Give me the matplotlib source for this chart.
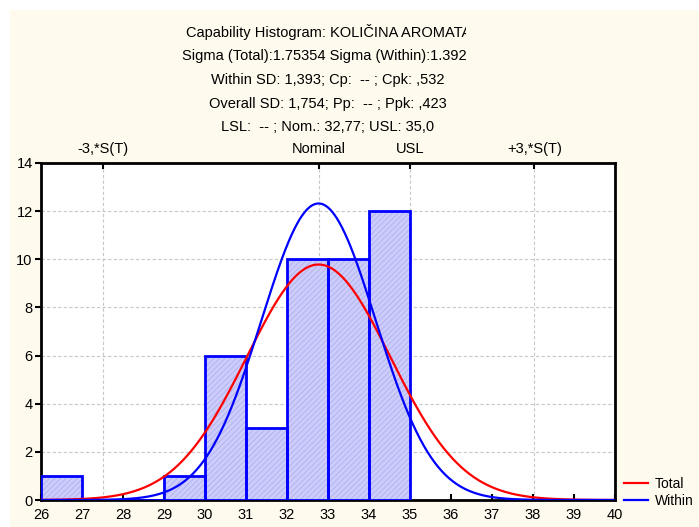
import numpy as np
import matplotlib
matplotlib.use("Agg")
import matplotlib.pyplot as plt
from matplotlib.patches import Rectangle
import matplotlib.transforms as mtransforms

# Data
bin_left = [26, 27, 28, 29, 30, 31, 32, 33, 34]
counts = [1, 0, 0, 1, 6, 3, 10, 10, 12]
bin_width = 1.0
mean = 32.77
sigma_total = 1.75354
sigma_within = 1.3926
usl = 35.0
title_lines = [
    "Capability Histogram: KOLIČINA AROMATA",
    "Sigma (Total):1.75354 Sigma (Within):1.3926",
    "Within SD: 1,393; Cp:  -- ; Cpk: ,532",
    "Overall SD: 1,754; Pp:  -- ; Ppk: ,423",
    "LSL:  -- ; Nom.: 32,77; USL: 35,0",
]
top_labels = ["-3,*S(T)", "Nominal", "USL", "+3,*S(T)"]
x_ticks = list(range(26, 41))
y_ticks = list(range(0, 15, 2))

plt.rcParams['font.family'] = ['Liberation Sans', 'DejaVu Sans']
plt.rcParams['hatch.linewidth'] = 0.6

W, H = 699, 527
fig = plt.figure(figsize=(W / 100, H / 100), dpi=100, facecolor='white')
cream = '#FFFAEE'
fig.patches.append(Rectangle((10 / W, 0), 1 - 10 / W, 1 - 10 / H,
                             transform=fig.transFigure, facecolor=cream,
                             edgecolor='none', zorder=-10))

ax = fig.add_axes([41 / W, 27 / H, (615 - 41) / W, (500 - 163) / H])
ax.set_facecolor('white')

N = sum(counts)
# hatched fill (hatch takes the edge colour), then blue outlines on top
ax.bar(bin_left, counts, width=bin_width, align='edge', facecolor='#CDCDFB',
       edgecolor='#AFAFF2', linewidth=0, hatch='//////', zorder=3)
ax.bar(bin_left, counts, width=bin_width, align='edge', fill=False,
       edgecolor='#0000FF', linewidth=2, zorder=3.5)

xs = np.linspace(26, 40, 800)
def npdf(x, m, s):
    return N * bin_width / (s * np.sqrt(2 * np.pi)) * np.exp(-0.5 * ((x - m) / s) ** 2)

l1, = ax.plot(xs, npdf(xs, mean, sigma_total), color='#FF0000', lw=1.6, zorder=4, label='Total')
l2, = ax.plot(xs, npdf(xs, mean, sigma_within), color='#0000FF', lw=1.6, zorder=4, label='Within')

ax.set_xlim(26, 40)
ax.set_ylim(0, 14)
ax.set_xticks(x_ticks)
ax.set_yticks(y_ticks)
ax.tick_params(axis='x', direction='in', length=4, width=1.5, labelsize=10.5, pad=6)
ax.tick_params(axis='y', direction='out', length=4, width=1.5, labelsize=10.5, pad=2)
for s in ax.spines.values():
    s.set_linewidth(2)
    s.set_color('black')
ax.yaxis.grid(True, linestyle=(0, (3, 2)), color='#C8C8C8', lw=0.8, zorder=0)

top_pos = [mean - 3 * sigma_total, mean, usl, mean + 3 * sigma_total]
for xv in top_pos:
    ax.axvline(xv, linestyle=(0, (3, 2)), color='#C8C8C8', lw=0.8, zorder=0)
ax2 = ax.secondary_xaxis('top')
ax2.set_xticks(top_pos)
ax2.set_xticklabels(top_labels)
ax2.tick_params(direction='in', length=4, width=1.5, labelsize=10.5, pad=5)

clip = mtransforms.Bbox.from_extents(0, 0, 466, H)
ys = [32, 56, 80, 104, 127]
xs_left = [186, 182, 211, 209, 221]
for t, yy, xl in zip(title_lines, ys, xs_left):
    txt = fig.text(xl / W, 1 - yy / H, t, ha='left', va='center', fontsize=10.5)
    txt.set_clip_box(clip)
    txt.set_clip_on(True)

leg = fig.legend(handles=[l1, l2], loc='lower left', bbox_to_anchor=(624 / W, 19 / H),
                 frameon=False, fontsize=10, handlelength=1.7, handletextpad=0.5,
                 labelspacing=0.25, borderaxespad=0, borderpad=0)

fig.savefig('out.png', dpi=100, facecolor='white')
